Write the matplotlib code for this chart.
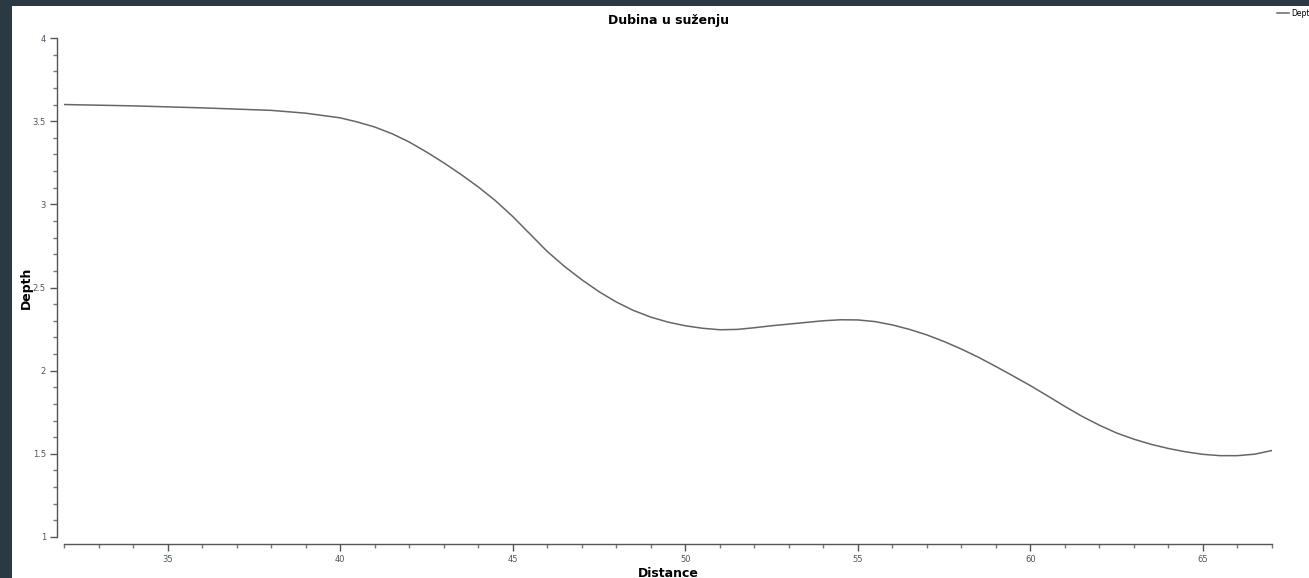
import matplotlib
matplotlib.use("Agg")
import matplotlib.pyplot as plt
from matplotlib.patches import Rectangle
from matplotlib.ticker import MultipleLocator

# depth profile
distance = [32, 34, 36, 38, 39, 40, 40.5, 41, 41.5, 42, 42.5, 43, 43.5, 44,
            44.5, 45, 45.5, 46, 46.5, 47, 47.5, 48, 48.5, 49, 49.5, 50, 50.5,
            51, 51.5, 52, 52.5, 53, 53.5, 54, 54.5, 55, 55.5, 56, 56.5, 57,
            57.5, 58, 58.5, 59, 59.5, 60, 60.5, 61, 61.5, 62, 62.5, 63, 63.5,
            64, 64.5, 65, 65.5, 66, 66.5, 67]
depth = [3.60, 3.592, 3.58, 3.565, 3.548, 3.52, 3.495, 3.465, 3.425, 3.375,
         3.315, 3.25, 3.18, 3.105, 3.022, 2.927, 2.822, 2.717, 2.627, 2.547,
         2.475, 2.413, 2.362, 2.322, 2.292, 2.27, 2.255, 2.246, 2.248, 2.258,
         2.27, 2.28, 2.29, 2.30, 2.306, 2.305, 2.295, 2.275, 2.248, 2.215,
         2.175, 2.13, 2.08, 2.025, 1.968, 1.91, 1.848, 1.785, 1.725, 1.672,
         1.625, 1.588, 1.557, 1.532, 1.512, 1.497, 1.489, 1.489, 1.498, 1.52]

W, H = 1309, 578
fig = plt.figure(figsize=(W / 100, H / 100), dpi=100)
fig.patch.set_facecolor('#2b3a42')
fig.add_artist(Rectangle((12 / W, 0), 1 - 12 / W, 1 - 6 / H,
                         transform=fig.transFigure, facecolor='white',
                         edgecolor='none', zorder=-10))

ax = fig.add_axes([64 / W, 1 - 537 / H, (1272 - 64) / W, (537 - 38) / H])
ax.set_facecolor('none')
ax.plot(distance, depth, color='#666666', lw=1.1, label='Depth')

ax.set_xlim(32, 67)
ax.set_ylim(1, 4)
ax.xaxis.set_major_locator(MultipleLocator(5))
ax.xaxis.set_minor_locator(MultipleLocator(1))
ax.yaxis.set_major_locator(MultipleLocator(0.5))
ax.yaxis.set_minor_locator(MultipleLocator(0.1))
ax.yaxis.set_major_formatter(plt.FuncFormatter(lambda v, p: '%g' % v))

for s in ['top', 'right']:
    ax.spines[s].set_visible(False)
ax.spines['left'].set_position(('outward', 5))
ax.spines['bottom'].set_position(('outward', 5))
for s in ['left', 'bottom']:
    ax.spines[s].set_color('#555555')
    ax.spines[s].set_linewidth(1.0)

ax.tick_params(which='major', length=5, width=1, color='#555555',
               labelsize=6, labelcolor='#4a5560', pad=3)
ax.tick_params(which='minor', length=3, width=1, color='#777777')

ax.set_title('Dubina u suženju', fontsize=9, fontweight='bold', pad=10)
ax.set_xlabel('Distance', fontsize=9, fontweight='bold', labelpad=2)
ax.set_ylabel('Depth', fontsize=9, fontweight='bold', labelpad=0)

# legend sits at the right edge and is clipped there, as in the reference
ax.legend(loc='upper left', bbox_to_anchor=(1277 / W, 1 - 9 / H),
          bbox_transform=fig.transFigure, frameon=False, fontsize=5.5,
          handlelength=1.6, handletextpad=0.3, borderpad=0, borderaxespad=0)

fig.savefig('out.png', dpi=100, facecolor=fig.get_facecolor())
